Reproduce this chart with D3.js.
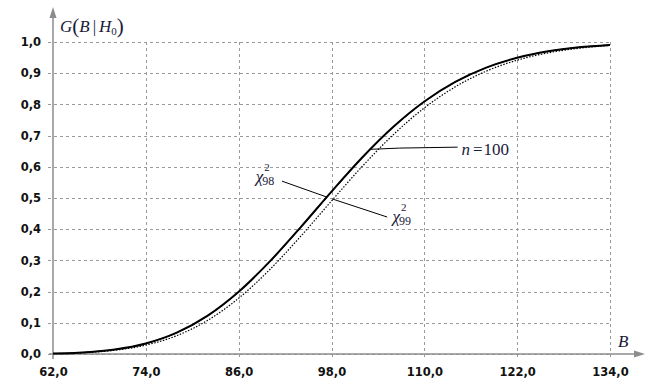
<!DOCTYPE html>
<html>
<head>
<meta charset="utf-8">
<script src="https://cdn.jsdelivr.net/npm/d3@7/dist/d3.min.js"></script>
<style>
  body { margin: 0; background: #fff; }
  svg { display: block; }
  .tick-label { font-family: "DejaVu Sans", sans-serif; font-weight: bold; font-size: 11.5px; fill: #111; }
  .math { font-family: "Liberation Serif", "DejaVu Serif", serif; fill: #1a1a3a; }
</style>
</head>
<body>
<div id="chart"></div>
<script>
const bValues = [62, 66, 70, 74, 78, 82, 86, 90, 94, 98, 102, 106, 110, 114, 118, 122, 126, 130, 134];

// G(B|H0) for n = 100 (thick solid)
const gN100 = [0.0015, 0.0052, 0.0145, 0.0338, 0.0685, 0.1230, 0.1995, 0.2960, 0.4060, 0.5205,
               0.6305, 0.7282, 0.8092, 0.8720, 0.9178, 0.9494, 0.9701, 0.9830, 0.9906];
// chi-square, 98 d.f. (thin solid)
const gChi98 = [0.0017, 0.0055, 0.0146, 0.0337, 0.0680, 0.1222, 0.1985, 0.2946, 0.4043, 0.5190,
                0.6291, 0.7271, 0.8084, 0.8715, 0.9176, 0.9493, 0.9701, 0.9831, 0.9908];
// chi-square, 99 d.f. (dotted)
const gChi99 = [0.0013, 0.0044, 0.0120, 0.0285, 0.0588, 0.1080, 0.1788, 0.2701, 0.3767, 0.4905,
                0.6020, 0.7032, 0.7887, 0.8563, 0.9065, 0.9417, 0.9652, 0.9800, 0.9889];

const xTicks = [62, 74, 86, 98, 110, 122, 134];
const yTicks = [0, 0.1, 0.2, 0.3, 0.4, 0.5, 0.6, 0.7, 0.8, 0.9, 1.0];

const width = 651, height = 381;

const x = d3.scaleLinear().domain([62, 134]).range([53, 610]);
const y = d3.scaleLinear().domain([0, 1]).range([354, 42]);

const svg = d3.select("#chart").append("svg")
    .attr("width", width)
    .attr("height", height);

const fmt = v => d3.format(".1f")(v).replace(".", ",");

// grid
const grid = svg.append("g")
    .attr("stroke", "#9a9a9a")
    .attr("stroke-width", 1)
    .attr("stroke-dasharray", "3,3");

grid.selectAll(".hgrid").data(yTicks).join("line")
    .attr("x1", 48).attr("x2", x(134))
    .attr("y1", d => Math.round(y(d)) + 0.5).attr("y2", d => Math.round(y(d)) + 0.5);

grid.selectAll(".vgrid").data(xTicks.slice(1)).join("line")
    .attr("x1", d => Math.round(x(d)) + 0.5).attr("x2", d => Math.round(x(d)) + 0.5)
    .attr("y1", y(1)).attr("y2", y(0) + 5);

// axes labels via d3 axes
const yAxis = svg.append("g")
    .attr("transform", `translate(${x(62)},0)`)
    .call(d3.axisLeft(y).tickValues(yTicks).tickSize(0).tickPadding(12).tickFormat(fmt));
yAxis.select(".domain").remove();
yAxis.selectAll("text").attr("class", "tick-label").attr("fill", null);
yAxis.attr("font-family", null).attr("font-size", null);

const xAxis = svg.append("g")
    .attr("transform", `translate(0,${y(0)})`)
    .call(d3.axisBottom(x).tickValues(xTicks).tickSize(0).tickPadding(14).tickFormat(fmt));
xAxis.select(".domain").remove();
xAxis.selectAll("text").attr("class", "tick-label").attr("fill", null);
xAxis.attr("font-family", null).attr("font-size", null);

// axis lines with arrows
const axisColor = "#8c8c8c";
svg.append("line")
    .attr("x1", x(62)).attr("x2", x(62))
    .attr("y1", y(0) + 5).attr("y2", 14)
    .attr("stroke", axisColor).attr("stroke-width", 1.5);
svg.append("path")
    .attr("d", `M${x(62)},7 L${x(62) - 3.5},18 L${x(62) + 3.5},18 Z`)
    .attr("fill", axisColor);

svg.append("line")
    .attr("x1", x(62) - 4).attr("x2", 638)
    .attr("y1", y(0)).attr("y2", y(0))
    .attr("stroke", axisColor).attr("stroke-width", 1.5);
svg.append("path")
    .attr("d", `M645,${y(0)} L634,${y(0) - 3.5} L634,${y(0) + 3.5} Z`)
    .attr("fill", axisColor);

// curves
const line = d3.line()
    .x(d => x(d[0]))
    .y(d => y(d[1]))
    .curve(d3.curveMonotoneX);

svg.append("path")
    .datum(bValues.map((b, i) => [b, gChi99[i]]))
    .attr("d", line)
    .attr("fill", "none")
    .attr("stroke", "#000")
    .attr("stroke-width", 1.2)
    .attr("stroke-dasharray", "1.5,1.5");

svg.append("path")
    .datum(bValues.map((b, i) => [b, gChi98[i]]))
    .attr("d", line)
    .attr("fill", "none")
    .attr("stroke", "#000")
    .attr("stroke-width", 1);

svg.append("path")
    .datum(bValues.map((b, i) => [b, gN100[i]]))
    .attr("d", line)
    .attr("fill", "none")
    .attr("stroke", "#000")
    .attr("stroke-width", 2);

// leader lines (in data units)
const leaders = [
    [[103.0, 0.656], [106.8, 0.660], [114.3, 0.663]],
    [[91.6, 0.554], [97.4, 0.503]],
    [[98.1, 0.497], [105.2, 0.439]]
];
const leaderLine = d3.line().x(d => x(d[0])).y(d => y(d[1]));
svg.selectAll(".leader").data(leaders).join("path")
    .attr("d", leaderLine)
    .attr("fill", "none")
    .attr("stroke", "#000")
    .attr("stroke-width", 1);

// n = 100 label
const nLabel = svg.append("text").attr("class", "math")
    .attr("x", x(114.8)).attr("y", y(0.637))
    .attr("font-size", 17);
nLabel.append("tspan").attr("font-style", "italic").text("n");
nLabel.append("tspan").attr("dx", 3).text("=");
nLabel.append("tspan").attr("dx", 1).text("100");

// chi-square labels
function chiLabel(bx, gy, df) {
    const t = svg.append("text").attr("class", "math")
        .attr("x", x(bx)).attr("y", y(gy))
        .attr("font-size", 17);
    t.append("tspan").attr("font-style", "italic").text("χ");
    t.append("tspan").attr("font-size", 12).attr("dx", -1).attr("dy", 3).text(df);
    t.append("tspan").attr("font-size", 11).attr("dx", -10).attr("dy", -14).text("2");
}
chiLabel(88.2, 0.551, "98");
chiLabel(105.9, 0.423, "99");

// y axis title G(B|H0)
const gTitle = svg.append("text").attr("class", "math")
    .attr("x", 60).attr("y", 32).attr("font-size", 17);
gTitle.append("tspan").attr("font-style", "italic").text("G");
gTitle.append("tspan").attr("font-size", 21).attr("dy", 1).text("(");
gTitle.append("tspan").attr("font-style", "italic").attr("dy", -1).text("B");
gTitle.append("tspan").attr("dx", 3).text("|");
gTitle.append("tspan").attr("font-style", "italic").attr("dx", 3).text("H");
gTitle.append("tspan").attr("font-size", 11).attr("dy", 3).text("0");
gTitle.append("tspan").attr("font-size", 21).attr("dy", -2).text(")");

// x axis title B
svg.append("text").attr("class", "math")
    .attr("x", 618).attr("y", 347)
    .attr("font-size", 17).attr("font-style", "italic")
    .text("B");
</script>
</body>
</html>
